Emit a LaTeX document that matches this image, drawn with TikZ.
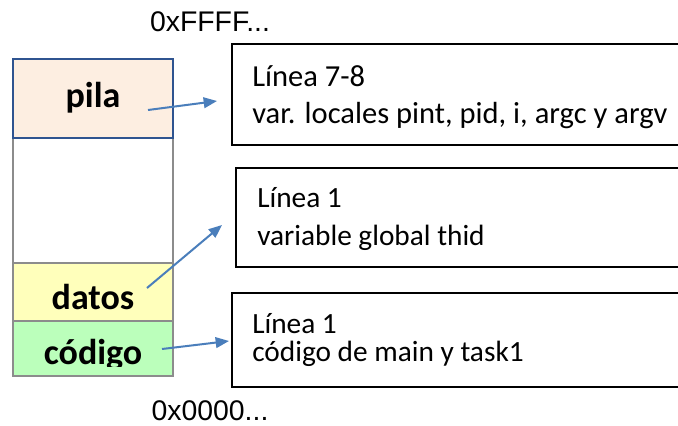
\documentclass[tikz,border=0pt]{standalone}
\usepackage{fontspec}
\setmainfont{Carlito}
\newfontfamily\addrfont{Liberation Sans}
\usetikzlibrary{arrows.meta}
\definecolor{pilafill}{HTML}{FDEEE1}
\definecolor{pilaborder}{HTML}{2F5490}
\definecolor{datosfill}{HTML}{FFFFBB}
\definecolor{codfill}{HTML}{BBFFBB}
\definecolor{segborder}{HTML}{8C8C8C}
\definecolor{arrowblue}{HTML}{4A7EBB}
\tikzset{
  seg/.style={draw=segborder, line width=1.3pt},
  seglabel/.style={font=\fontsize{27}{30}\selectfont\bfseries, inner sep=0pt},
  infobox/.style={draw=black, line width=1.1pt},
  infotext/.style={font=\fontsize{22}{24}\selectfont, anchor=west, inner sep=0pt},
  bigtext/.style={infotext, font=\fontsize{22.9}{26}\selectfont},
  addr/.style={font=\addrfont\fontsize{21.3}{24}\selectfont, inner sep=0pt},
  conn/.style={draw=arrowblue, line width=1.5pt, -{Triangle[length=10pt,width=8pt]}}
}
\begin{document}
\begin{tikzpicture}[x=0.75pt,y=-0.75pt]
\useasboundingbox (0,0) rectangle (678,425);
\begin{scope}
\clip (0,0) rectangle (678,425);
% memory column
\draw[seg] (13,138) rectangle (173,263);
\draw[seg, fill=datosfill] (13,263) rectangle (173,321);
\draw[seg, fill=codfill] (13,321) rectangle (173,376);
\draw[draw=pilaborder, line width=1.3pt, fill=pilafill] (13,59) rectangle (173,138);
\node[seglabel] (pila) at (93,98) {pila};
\node[seglabel, anchor=base] (datos) at (93,309) {datos};
\begin{scope}
\clip (13,321) rectangle (173,366);
\node[seglabel, anchor=base] (codigo) at (93,364) {código};
\end{scope}
% info boxes
\draw[infobox] (232,44) rectangle (700,145);
\draw[infobox] (236,168) rectangle (700,267);
\draw[infobox] (232,293) rectangle (700,387);
\node[bigtext] (t1a) at (252,76) {Línea 7-8};
\node[bigtext] (t1b) at (252,116) {var. locales pint, pid, i, argc y argv};
\node[infotext] (t2a) at (257,198) {Línea 1};
\node[infotext] (t2b) at (257,238) {variable global thid};
\node[infotext] (t3a) at (252,324) {Línea 1};
\node[infotext] (t3b) at (252,354) {código de main y task1};
% addresses
\node[addr] (top) at (210,22) {0xFFFF...};
\node[addr] (bot) at (210,411) {0x0000...};
% connectors
\coordinate (p1) at (148,110);
\coordinate (e1) at (217,101);
\coordinate (p2) at (147,288);
\coordinate (e2) at (222,225);
\coordinate (p3) at (162,349);
\coordinate (e3) at (229,341);
\draw[conn] (p1) -- (e1);
\draw[conn] (p2) -- (e2);
\draw[conn] (p3) -- (e3);
\end{scope}
\end{tikzpicture}
\end{document}
